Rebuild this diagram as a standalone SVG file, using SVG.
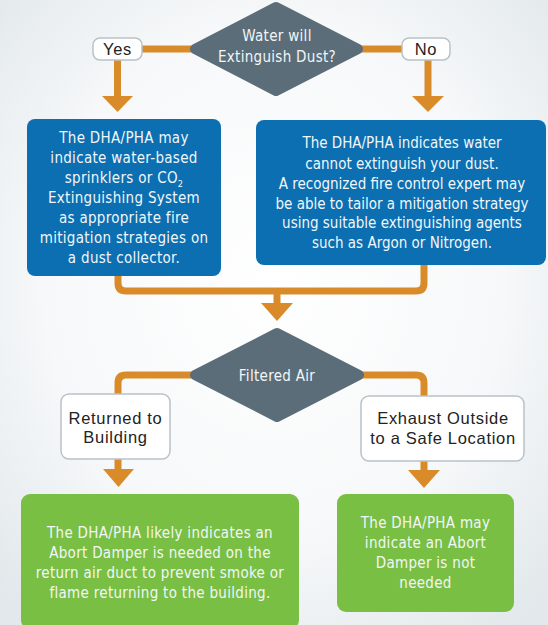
<svg xmlns="http://www.w3.org/2000/svg" width="548" height="625" viewBox="0 0 548 625">
<defs>
<radialGradient id="bg" cx="50%" cy="45%" r="70%">
<stop offset="0" stop-color="#ffffff"/>
<stop offset="0.6" stop-color="#f6f8f9"/>
<stop offset="1" stop-color="#e2e8eb"/>
</radialGradient>
<style>
.conn{fill:none;stroke:#d98b2a;stroke-width:7}
.head{fill:#d98b2a}
.dia{fill:#5b6d78;stroke:#5b6d78;stroke-width:10;stroke-linejoin:round}
.blue{fill:#0b6fb2}
.green{fill:#79bf44}
.lbl{fill:#ffffff;stroke:#b9c2c9;stroke-width:1.5}
.ct{font-family:"Liberation Sans Narrow","DejaVu Sans Condensed","Liberation Sans",sans-serif;font-size:15px;fill:#f2f6f8;text-anchor:middle;letter-spacing:0.3px}
.nr{letter-spacing:0px}
.lt{font-family:"Liberation Sans","Arial",sans-serif;font-size:16.5px;fill:#222;text-anchor:middle;letter-spacing:0.7px}
</style>
</defs>
<rect width="548" height="625" fill="url(#bg)"/>
<g id="connectors">
<path class="conn" d="M142,49 H195"/>
<path class="conn" d="M358,49 H402"/>
<path class="conn" d="M117.5,60 V98"/>
<polygon class="head" points="102,96 133,96 117.5,112"/>
<path class="conn" d="M428,60 V98"/>
<polygon class="head" points="412,96 444,96 428,112"/>
<path class="conn" d="M118,270 V283 Q118,291 126,291 H416 Q424,291 424,283 V260"/>
<path class="conn" d="M277,291 V305"/>
<polygon class="head" points="261,303 293,303 277,321"/>
<path class="conn" d="M195,375 H126 Q118,375 118,383 V400"/>
<path class="conn" d="M359,375 H416 Q424,375 424,383 V400"/>
<path class="conn" d="M118,455 V471"/>
<polygon class="head" points="103,469 134,469 118.5,487"/>
<path class="conn" d="M424,455 V472"/>
<polygon class="head" points="408,470 440,470 424,488"/>
</g>
<g id="decision1">
<polygon class="dia" points="195,49 276,7 358,49 276,91"/>
<text class="ct" x="277" y="41">Water will</text>
<text class="ct" x="277" y="62">Extinguish Dust?</text>
</g>
<g id="yes">
<rect class="lbl" x="93" y="38" width="49" height="22" rx="7"/>
<text class="lt" x="117.5" y="55">Yes</text>
</g>
<g id="no">
<rect class="lbl" x="402" y="38" width="48" height="22" rx="7"/>
<text class="lt" x="426" y="55">No</text>
</g>
<g id="box-yes">
<rect class="blue" x="27" y="119" width="194" height="157" rx="8"/>
<text class="ct" x="124" y="143">The DHA/PHA may</text>
<text class="ct" x="124" y="163">indicate water-based</text>
<text class="ct" x="124" y="183">sprinklers or CO<tspan font-size="9" dy="4">2</tspan></text>
<text class="ct" x="124" y="203">Extinguishing System</text>
<text class="ct" x="124" y="223">as appropriate fire</text>
<text class="ct" x="124" y="243">mitigation strategies on</text>
<text class="ct" x="124" y="263">a dust collector.</text>
</g>
<g id="box-no">
<rect class="blue" x="256" y="120" width="290" height="145" rx="8"/>
<text class="ct nr" x="402" y="148">The DHA/PHA indicates water</text>
<text class="ct nr" x="402" y="169">cannot extinguish your dust.</text>
<text class="ct nr" x="402" y="189">A recognized fire control expert may</text>
<text class="ct nr" x="402" y="209">be able to tailor a mitigation strategy</text>
<text class="ct nr" x="402" y="228">using suitable extinguishing agents</text>
<text class="ct nr" x="402" y="248">such as Argon or Nitrogen.</text>
</g>
<g id="decision2">
<polygon class="dia" points="195,375 277,333 359,375 277,417"/>
<text class="ct" x="277" y="381">Filtered Air</text>
</g>
<g id="returned">
<rect class="lbl" x="61" y="394" width="109" height="65" rx="8"/>
<text class="lt" x="115.5" y="424">Returned to</text>
<text class="lt" x="115.5" y="443">Building</text>
</g>
<g id="exhaust">
<rect class="lbl" x="361" y="396" width="163" height="65" rx="8"/>
<text class="lt" x="443" y="424">Exhaust Outside</text>
<text class="lt" x="443" y="444">to a Safe Location</text>
</g>
<g id="result-returned">
<rect class="green" x="21" y="494" width="278" height="135" rx="9"/>
<text class="ct" x="160" y="538">The DHA/PHA likely indicates an</text>
<text class="ct" x="160" y="558">Abort Damper is needed on the</text>
<text class="ct" x="160" y="578">return air duct to prevent smoke or</text>
<text class="ct" x="160" y="598">flame returning to the building.</text>
</g>
<g id="result-exhaust">
<rect class="green" x="337" y="494" width="177" height="118" rx="9"/>
<text class="ct" x="425.5" y="528">The DHA/PHA may</text>
<text class="ct" x="425.5" y="548">indicate an Abort</text>
<text class="ct" x="425.5" y="568">Damper is not</text>
<text class="ct" x="425.5" y="588">needed</text>
</g>
</svg>
